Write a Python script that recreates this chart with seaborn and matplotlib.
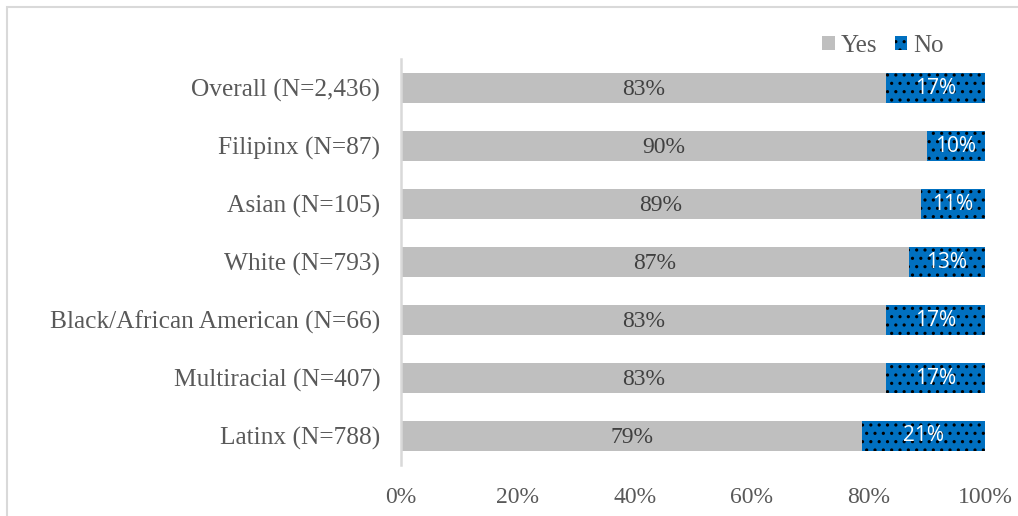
import matplotlib
matplotlib.use("Agg")
import matplotlib.pyplot as plt
import seaborn as sns
import pandas as pd
from matplotlib.patches import Rectangle, Patch

categories = ["Overall (N=2,436)", "Filipinx (N=87)", "Asian (N=105)", "White (N=793)",
              "Black/African American (N=66)", "Multiracial (N=407)", "Latinx (N=788)"]
yes_vals = [83, 90, 89, 87, 83, 83, 79]
no_vals = [17, 10, 11, 13, 17, 17, 21]
xticks = [0, 20, 40, 60, 80, 100]

sns.set_theme(style="white")
plt.rcParams["font.family"] = ["Liberation Serif", "DejaVu Serif"]
plt.rcParams["hatch.color"] = "black"
plt.rcParams["hatch.linewidth"] = 1.1

df = pd.DataFrame({"cat": categories, "Yes": yes_vals, "No": no_vals})
df["Total"] = df["Yes"] + df["No"]

fig = plt.figure(figsize=(10.18, 5.16), dpi=100)
ax = fig.add_axes([401/1018, 1 - 465/516, 584/1018, 406/516])

sns.barplot(data=df, y="cat", x="Total", color="#0070C0", orient="h", width=0.52,
            ax=ax, saturation=1, edgecolor="black", linewidth=0, hatch="..")
sns.barplot(data=df, y="cat", x="Yes", color="#BFBFBF", orient="h", width=0.52,
            ax=ax, saturation=1, edgecolor="none", linewidth=0)

for i, (y, n) in enumerate(zip(yes_vals, no_vals)):
    ax.text(y / 2, i + 0.03, f"{y}%", ha="center", va="center", fontsize=17, color="#404040",
            family=["Liberation Serif"])
    ax.text(y + n / 2, i, f"{n}%", ha="center", va="center", fontsize=15, color="white",
            family=["Open Sans"])

ax.set_xlim(0, 100)
ax.set_ylim(6.5, -0.5)
ax.set_xticks(xticks)
ax.set_xticklabels([f"{t}%" for t in xticks], fontsize=17, color="#595959")
ax.set_yticks(range(len(categories)))
ax.set_yticklabels(categories, fontsize=18.3, color="#595959")
ax.tick_params(axis="both", length=0)
ax.tick_params(axis="x", pad=16)
ax.tick_params(axis="y", pad=15)
ax.set_xlabel("")
ax.set_ylabel("")
for s in ["top", "right", "bottom"]:
    ax.spines[s].set_visible(False)
ax.spines["left"].set_color("#D9D9D9")
ax.spines["left"].set_linewidth(1.8)

handles = [Patch(facecolor="#BFBFBF", edgecolor="none", label="Yes"),
           Patch(facecolor="#0070C0", edgecolor="black", linewidth=0, hatch="..", label="No")]
leg = fig.legend(handles=handles, loc="center", bbox_to_anchor=(883/1018, 1 - 46/516),
                 ncol=2, frameon=False, fontsize=18, handlelength=0.5, handleheight=0.5,
                 handletextpad=0.25, columnspacing=0.7, borderpad=0)
for t in leg.get_texts():
    t.set_color("#595959")

fig.patches.append(Rectangle((7/1018, -0.1), 1.2, 1 - 7/516 + 0.1, transform=fig.transFigure,
                             fill=False, edgecolor="#D9D9D9", linewidth=1.5))

fig.savefig("out.png", dpi=100)
